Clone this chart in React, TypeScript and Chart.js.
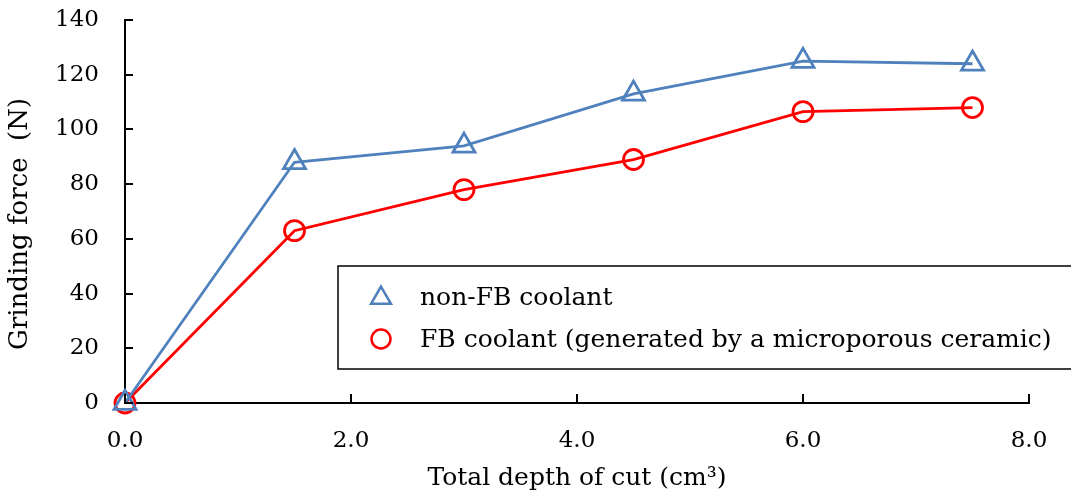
import React, { useEffect, useRef } from "react";
import { Chart, registerables } from "chart.js";

Chart.register(...registerables);

const depthOfCut = [0.0, 1.5, 3.0, 4.5, 6.0, 7.5];
const nonFbForce = [0, 88, 94, 113, 125, 124];
const fbForce = [0, 63, 78, 89, 106.5, 108];
const seriesLabels = ["non-FB coolant", "FB coolant (generated by a microporous ceramic)"];
const xTickValues = [0, 2, 4, 6, 8];
const yTickValues = [0, 20, 40, 60, 80, 100, 120, 140];

const FONT = "'DejaVu Serif', serif";
const BLUE = "#4F81BD";
const RED = "#FF0000";

const toPoints = (xs: number[], ys: number[]) => xs.map((x, i) => ({ x, y: ys[i] }));

const inwardTicks = {
  id: "inwardTicks",
  afterDraw(chart: any) {
    const { ctx, scales, chartArea } = chart;
    ctx.save();
    ctx.strokeStyle = "#000";
    ctx.lineWidth = 2;
    const ys = scales.y;
    const xs = scales.x;
    yTickValues.forEach((v) => {
      const p = Math.round(ys.getPixelForValue(v));
      ctx.beginPath();
      ctx.moveTo(chartArea.left, p);
      ctx.lineTo(chartArea.left + 8, p);
      ctx.stroke();
    });
    xTickValues.forEach((v) => {
      const p = Math.round(xs.getPixelForValue(v));
      ctx.beginPath();
      ctx.moveTo(p, chartArea.bottom);
      ctx.lineTo(p, chartArea.bottom - 9);
      ctx.stroke();
    });
    ctx.restore();
  },
};

const boxLegend = {
  id: "boxLegend",
  afterDraw(chart: any) {
    const { ctx } = chart;
    const bx = 338, by = 266, bw = 745, bh = 103;
    ctx.save();
    ctx.strokeStyle = "#000";
    ctx.lineWidth = 1.5;
    ctx.strokeRect(bx, by, bw, bh);
    ctx.font = `25px ${FONT}`;
    ctx.textBaseline = "middle";
    chart.data.datasets.forEach((ds: any, i: number) => {
      const cy = by + 31 + i * 42;
      const cx = bx + 43;
      ctx.strokeStyle = ds.borderColor;
      ctx.lineWidth = 2.5;
      ctx.beginPath();
      if (ds.pointStyle === "triangle") {
        const r = 11.5;
        const c = cy + 1;
        ctx.moveTo(cx, c - r);
        ctx.lineTo(cx + r * 0.866, c + r * 0.5);
        ctx.lineTo(cx - r * 0.866, c + r * 0.5);
        ctx.closePath();
      } else {
        ctx.arc(cx, cy, 9.5, 0, Math.PI * 2);
      }
      ctx.stroke();
      ctx.fillStyle = "#000";
      ctx.fillText(ds.label, bx + 82, cy + 1);
    });
    ctx.restore();
  },
};

export default function App() {
  const ref = useRef<HTMLCanvasElement | null>(null);
  useEffect(() => {
    if (!ref.current) return;
    const chart = new Chart(ref.current, {
      type: "line",
      data: {
        datasets: [
          {
            label: seriesLabels[0],
            data: toPoints(depthOfCut, nonFbForce),
            borderColor: BLUE,
            backgroundColor: "transparent",
            borderWidth: 2.8,
            pointStyle: "triangle",
            pointRadius: 12.7,
            pointBorderWidth: 2.8,
            pointBorderColor: BLUE,
            pointBackgroundColor: "transparent",
            tension: 0,
            clip: false,
          },
          {
            label: seriesLabels[1],
            data: toPoints(depthOfCut, fbForce),
            borderColor: RED,
            backgroundColor: "transparent",
            borderWidth: 2.8,
            pointStyle: "circle",
            pointRadius: 10,
            pointBorderWidth: 2.8,
            pointBorderColor: RED,
            pointBackgroundColor: "transparent",
            tension: 0,
            clip: false,
          },
        ],
      },
      options: {
        animation: false,
        responsive: true,
        maintainAspectRatio: false,
        layout: { autoPadding: false, padding: { top: 20, right: 42, left: 0, bottom: 0 } },
        plugins: {
          legend: { display: false },
          tooltip: { enabled: false },
        },
        scales: {
          x: {
            type: "linear",
            min: 0,
            max: 8,
            afterBuildTicks: (s: any) => {
              s.ticks = xTickValues.map((v) => ({ value: v }));
            },
            afterFit: (s: any) => {
              s.height = 95;
              s.paddingLeft = 0;
              s.paddingRight = 0;
            },
            grid: { display: false, drawTicks: false },
            border: { display: true, color: "#000", width: 2 },
            ticks: {
              color: "#000",
              font: { family: FONT, size: 23 },
              padding: 24,
              maxRotation: 0,
              callback: (v: any) => Number(v).toFixed(1),
            },
            title: {
              display: true,
              text: "Total depth of cut (cm³)",
              color: "#000",
              font: { family: FONT, size: 25 },
              padding: { top: 0, bottom: 5 },
            },
          },
          y: {
            type: "linear",
            min: 0,
            max: 140,
            afterBuildTicks: (s: any) => {
              s.ticks = yTickValues.map((v) => ({ value: v }));
            },
            afterFit: (s: any) => {
              s.width = 125;
              s.paddingTop = 0;
              s.paddingBottom = 0;
            },
            grid: { display: false, drawTicks: false },
            border: { display: true, color: "#000", width: 2 },
            ticks: {
              color: "#000",
              font: { family: FONT, size: 23 },
              padding: 26,
            },
            title: {
              display: true,
              text: "Grinding force  (N)   ",
              color: "#000",
              font: { family: FONT, size: 26 },
              padding: { top: 5, bottom: 0 },
            },
          },
        },
      },
      plugins: [inwardTicks, boxLegend],
    });
    return () => chart.destroy();
  }, []);
  return (
    <div style={{ position: "fixed", left: 0, top: 0, width: 1071, height: 498, background: "#fff" }}>
      <canvas ref={ref} />
    </div>
  );
}
